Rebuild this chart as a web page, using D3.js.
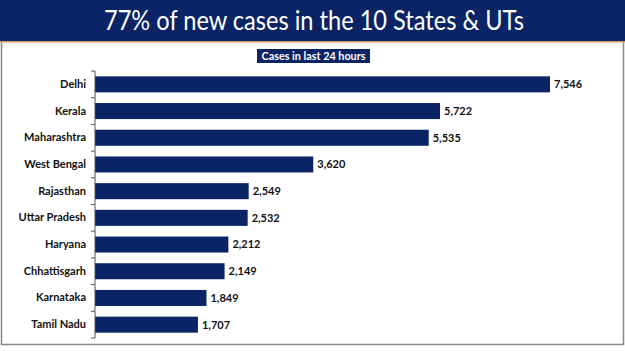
<!DOCTYPE html>
<html>
<head>
<meta charset="utf-8">
<script src="https://cdn.jsdelivr.net/npm/d3@7"></script>
<style>
  html, body { margin: 0; padding: 0; background: #fff; }
  svg { display: block; }
</style>
</head>
<body>
<svg id="chart" width="625" height="351"></svg>
<script>
const states = ["Delhi", "Kerala", "Maharashtra", "West Bengal", "Rajasthan", "Uttar Pradesh", "Haryana", "Chhattisgarh", "Karnataka", "Tamil Nadu"];
const cases = [7546, 5722, 5535, 3620, 2549, 2532, 2212, 2149, 1849, 1707];
const titleText = "77% of new cases in the 10 States & UTs";
const subtitleText = "Cases in last 24 hours";

const navy = "#0b2466";
const font = "Lato, 'Open Sans', sans-serif";
const svg = d3.select("#chart");

// frame
svg.append("rect").attr("x", 1.5).attr("y", 40).attr("width", 622).attr("height", 304.5)
  .attr("fill", "#fff").attr("stroke", "#8a8a8a").attr("stroke-width", 1.5);

// title band
svg.append("rect").attr("x", 0).attr("y", 0).attr("width", 625).attr("height", 41).attr("fill", navy);
svg.append("rect").attr("x", 0).attr("y", 41).attr("width", 625).attr("height", 1.5).attr("fill", "#d49a5e");
svg.append("text").attr("x", 314).attr("y", 30).attr("text-anchor", "middle")
  .attr("fill", "#fff").attr("font-family", font).attr("font-size", 26)
  .attr("textLength", 420).attr("lengthAdjust", "spacingAndGlyphs")
  .text(titleText);

// subtitle box
const sub = svg.append("g");
sub.append("rect").attr("x", 257).attr("y", 49).attr("width", 113).attr("height", 14).attr("fill", navy);
sub.append("text").attr("x", 313.5).attr("y", 60).attr("text-anchor", "middle")
  .attr("fill", "#fff").attr("font-family", font).attr("font-weight", "bold").attr("font-size", 11)
  .attr("textLength", 104).attr("lengthAdjust", "spacingAndGlyphs")
  .text(subtitleText);

// scales
const x = d3.scaleLinear().domain([0, 7546]).range([95, 550]);
const y = d3.scaleBand().domain(states).range([71, 338]).paddingInner(0.4).paddingOuter(0.2);

// bars
svg.append("g").selectAll("rect").data(states).join("rect")
  .attr("x", x(0)).attr("y", d => y(d))
  .attr("width", (d, i) => x(cases[i]) - x(0)).attr("height", y.bandwidth())
  .attr("fill", navy);

// axis
const yAxis = d3.axisLeft(y).tickSize(0).tickPadding(9);
const ag = svg.append("g").attr("transform", `translate(${x(0)},0)`).call(yAxis);
ag.select(".domain").attr("stroke", "#555").attr("stroke-width", 1).attr("d", "M0,71V338");
ag.selectAll("text").attr("font-family", font).attr("font-weight", "bold")
  .attr("font-size", 11).attr("fill", "#111");
// boundary ticks between categories
const step = y.step();
const bounds = d3.range(states.length + 1).map(i => 71 + i * step);
ag.selectAll("line.bt").data(bounds).join("line").attr("class", "bt")
  .attr("x1", -4).attr("x2", 0).attr("y1", d => d).attr("y2", d => d)
  .attr("stroke", "#555").attr("stroke-width", 1);

// value labels
svg.append("g").selectAll("text").data(states).join("text")
  .attr("x", (d, i) => x(cases[i]) + 4).attr("y", d => y(d) + y.bandwidth() / 2)
  .attr("dy", "0.35em")
  .attr("font-family", font).attr("font-weight", "bold").attr("font-size", 11)
  .attr("fill", "#111")
  .text((d, i) => d3.format(",")(cases[i]));
</script>
</body>
</html>
